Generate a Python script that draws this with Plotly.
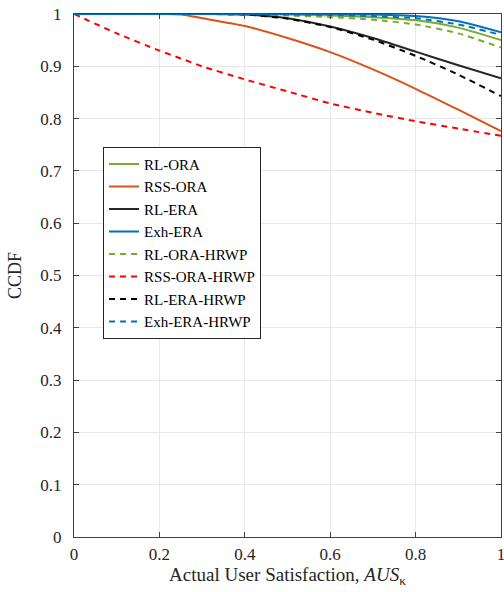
import plotly.graph_objects as go

x = [0, 0.1, 0.2, 0.25, 0.3, 0.4, 0.5, 0.6, 0.7, 0.8, 0.9, 1.0]

rl_ora = [1, 1, 1, 1, 1, 1, 0.999, 0.997, 0.994, 0.988, 0.974, 0.950]
rss_ora = [1, 1, 1, 0.999, 0.992, 0.977, 0.954, 0.927, 0.894, 0.857, 0.817, 0.776]
rl_era = [1, 1, 1, 1, 1, 0.999, 0.992, 0.976, 0.954, 0.928, 0.902, 0.877]
exh_era = [1, 1, 1, 1, 1, 1, 1, 1, 0.999, 0.996, 0.986, 0.965]
rl_ora_hrwp = [1, 1, 1, 1, 1, 0.999, 0.997, 0.994, 0.989, 0.980, 0.963, 0.936]
rss_ora_hrwp = [1, 0.963, 0.930, 0.915, 0.900, 0.875, 0.852, 0.829, 0.811, 0.795, 0.781, 0.767]
rl_era_hrwp = [1, 1, 1, 1, 1, 0.999, 0.991, 0.975, 0.951, 0.920, 0.884, 0.843]
exh_era_hrwp = [1, 1, 1, 1, 1, 1, 0.999, 0.998, 0.996, 0.992, 0.980, 0.960]

names = ["RL-ORA", "RSS-ORA", "RL-ERA", "Exh-ERA",
         "RL-ORA-HRWP", "RSS-ORA-HRWP", "RL-ERA-HRWP", "Exh-ERA-HRWP"]
series = [rl_ora, rss_ora, rl_era, exh_era,
          rl_ora_hrwp, rss_ora_hrwp, rl_era_hrwp, exh_era_hrwp]
colors = ["#77AC30", "#D95319", "#262626", "#0072BD",
          "#77AC30", "#FF0000", "#000000", "#0072BD"]
dashes = ["solid"] * 4 + ["6px,5px"] * 4

x_ticks = [0, 0.2, 0.4, 0.6, 0.8, 1]
x_tick_labels = ["0", "0.2", "0.4", "0.6", "0.8", "1"]
y_ticks = [0, 0.1, 0.2, 0.3, 0.4, 0.5, 0.6, 0.7, 0.8, 0.9, 1]
y_tick_labels = ["0", "0.1", "0.2", "0.3", "0.4", "0.5", "0.6", "0.7", "0.8", "0.9", "1"]

fig = go.Figure()
for name, ys, c, d in zip(names, series, colors, dashes):
    fig.add_trace(go.Scatter(
        x=x, y=ys, name=name, mode="lines",
        line=dict(color=c, width=2, dash=d, shape="spline", smoothing=0.6),
    ))

serif = "Liberation Serif"
axis_common = dict(
    range=[0, 1], showgrid=True, gridcolor="#e8e8e8", gridwidth=1,
    showline=True, linecolor="#404040", linewidth=1, mirror="ticks",
    ticks="inside", ticklen=5, tickcolor="#404040", zeroline=False,
    tickfont=dict(family=serif, size=17, color="#262626"),
    automargin=False, ticklabeloverflow="allow",
)

fig.update_layout(
    width=504, height=592,
    margin=dict(l=74, r=3, t=14, b=55),
    plot_bgcolor="white", paper_bgcolor="white",
    xaxis=dict(**axis_common, tickvals=x_ticks, ticktext=x_tick_labels,
               ticklabelstandoff=2,
               title=dict(text="Actual User Satisfaction, <i>AUS</i><sub>κ</sub>",
                          font=dict(family=serif, size=19, color="#262626"),
                          standoff=2)),
    yaxis=dict(**axis_common, tickvals=y_ticks, ticktext=y_tick_labels,
               ticklabelstandoff=8,
               title=dict(text="CCDF", font=dict(family=serif, size=18, color="#262626"),
                          standoff=14)),
    legend=dict(x=0.068, y=0.746, xanchor="left", yanchor="top",
                bgcolor="white", bordercolor="#262626", borderwidth=1,
                font=dict(family=serif, size=15, color="#000000"),
                tracegroupgap=0, itemwidth=30),
    showlegend=True,
)

fig.write_html("out.html", config={"displayModeBar": False},
               post_script="document.body.style.margin='0';document.body.style.overflow='hidden';")
